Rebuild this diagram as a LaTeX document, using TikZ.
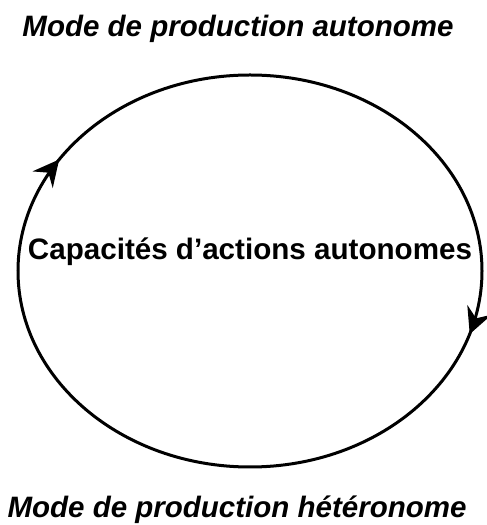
\documentclass[tikz,border=0pt]{standalone}
\usepackage{fontspec}
\setmainfont{Liberation Sans}
\usetikzlibrary{arrows.meta,decorations.markings}
\begin{document}
\begin{tikzpicture}[x=1pt,y=1pt,
  lbl/.style={font=\fontsize{29.5}{34}\selectfont\bfseries\itshape, inner sep=0pt},
  ctr/.style={font=\fontsize{29.6}{34}\selectfont\bfseries, inner sep=0pt},
  cyc/.style={line width=3pt,
    decoration={markings,
      mark=at position 0.41 with {\arrowreversed{Stealth[length=26pt,width=26pt,inset=9pt]}},
      mark=at position 0.952 with {\arrowreversed{Stealth[length=26pt,width=26pt,inset=9pt]}}},
    postaction={decorate}}]
\useasboundingbox (0,0) rectangle (487,525);
\coordinate (o) at (250,254);
\draw[cyc] (o) ellipse [x radius=232, y radius=196];
\node[lbl] (top) at (238,496) {Mode de production autonome};
\node[ctr] (mid) at (250,273) {Capacités d’actions autonomes};
\node[lbl] (bot) at (237,15) {Mode de production hétéronome};
\end{tikzpicture}
\end{document}
